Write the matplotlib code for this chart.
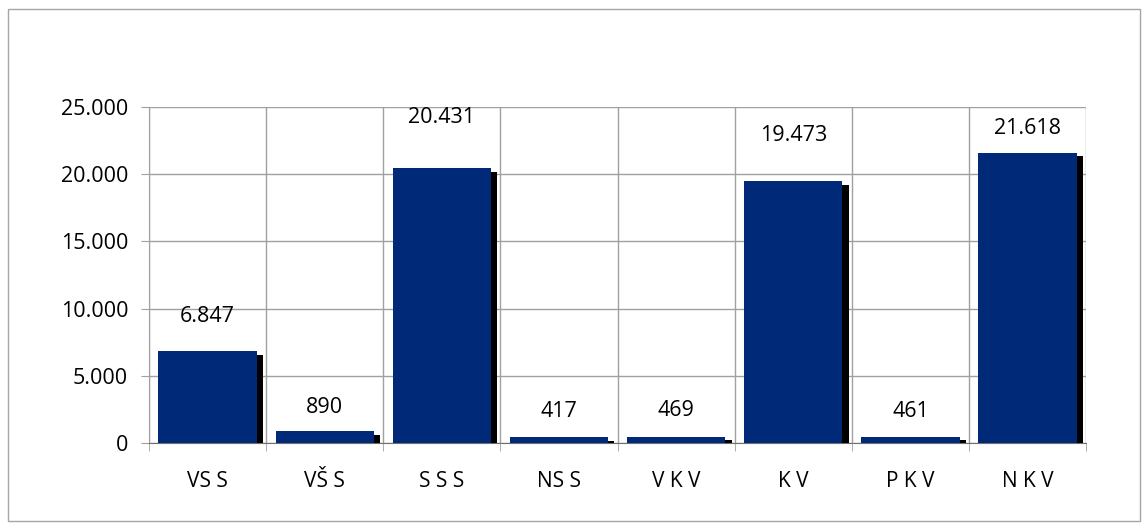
import matplotlib
matplotlib.use('Agg')
import matplotlib.pyplot as plt
import matplotlib.patheffects as pe
from matplotlib.patches import Rectangle
import numpy as np

# dados do gráfico
categorias = ['VS S', 'VŠ S', 'S S S', 'NS S', 'V K V', 'K V', 'P K V', 'N K V']
valores = [6847, 890, 20431, 417, 469, 19473, 461, 21618]
rotulos = ['6.847', '890', '20.431', '417', '469', '19.473', '461', '21.618']
yticks = [0, 5000, 10000, 15000, 20000, 25000]
ytick_labels = ['0', '5.000', '10.000', '15.000', '20.000', '25.000']

# distância (px) entre o topo da barra e o centro do rótulo, como no original
desloc_rotulo = [35, 24, 51, 26, 26, 46, 25, 24]

plt.rcParams['font.family'] = ['Open Sans', 'DejaVu Sans']

fig = plt.figure(figsize=(11.48, 5.30), dpi=100)
ax = fig.add_axes([0.1298, 0.164, 0.8163, 0.634])

# moldura externa
fig.patches.append(Rectangle((8 / 1148, 9 / 530), 1132 / 1148, 512 / 530,
                             transform=fig.transFigure, fill=False,
                             edgecolor='#a6a6a6', linewidth=1))

x = np.arange(len(categorias))
barras = ax.bar(x, valores, width=0.84, color='#002A78', zorder=3)
for b in barras:
    b.set_path_effects([pe.SimplePatchShadow(offset=(4.5, -2.5), shadow_rgbFace='black', alpha=1.0),
                        pe.Normal()])

for xi, v, r, d in zip(x, valores, rotulos, desloc_rotulo):
    ax.annotate(r, (xi, v), xytext=(0, d), textcoords='offset pixels',
                ha='center', va='center', fontsize=15.5, color='black')

ax.set_xlim(-0.5, len(categorias) - 0.5)
ax.set_ylim(0, 25000)
ax.set_yticks(yticks)
ax.set_yticklabels(ytick_labels, fontsize=15.5)
ax.set_xticks(x)
ax.set_xticklabels(categorias, fontsize=15)
ax.set_xticks(np.arange(len(categorias) + 1) - 0.5, minor=True)

ax.tick_params(axis='x', which='major', length=0, pad=20)
ax.tick_params(axis='x', which='minor', length=6, color='#a0a0a0')
ax.tick_params(axis='y', length=6, color='#a0a0a0', pad=9)

ax.grid(axis='y', which='major', color='#a0a0a0', linewidth=1, zorder=0)
ax.grid(axis='x', which='minor', color='#a0a0a0', linewidth=1, zorder=0)
ax.set_axisbelow(True)
for lado in ['top', 'right']:
    ax.spines[lado].set_visible(False)
ax.spines['left'].set_color('#a0a0a0')
ax.spines['bottom'].set_color('#707070')

fig.savefig('out.png', dpi=100)
